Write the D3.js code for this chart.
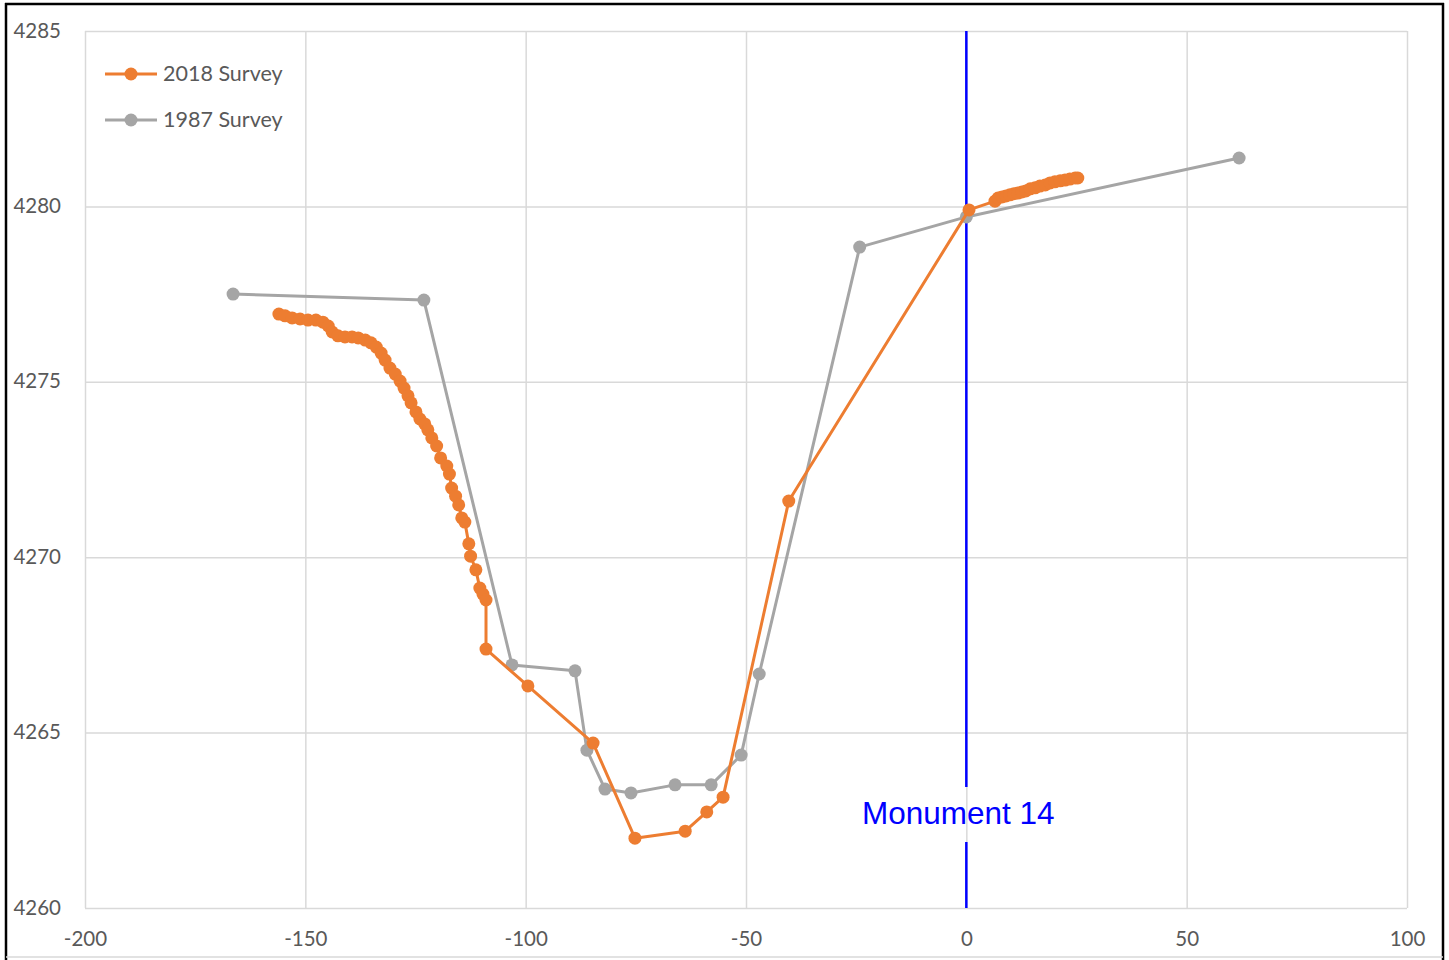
<!DOCTYPE html>
<html><head><meta charset="utf-8">
<script src="https://cdn.jsdelivr.net/npm/d3@7"></script>
<style>
html,body{margin:0;padding:0;background:#fff;}
svg{display:block;}
</style></head>
<body>
<svg id="chart" width="1449" height="960"></svg>
<script>
// ---- data ----
const xTicks = [-200, -150, -100, -50, 0, 50, 100];
const yTicks = [4260, 4265, 4270, 4275, 4280, 4285];
const seriesNames = ["2018 Survey", "1987 Survey"];
const monumentX = 0;
const monumentLabel = "Monument 14";

const survey2018X = [-156.0,-154.6,-153.0,-151.2,-149.4,-147.6,-146.0,-144.8,-143.9,-142.6,-141.0,-139.4,-138.0,-136.4,-135.1,-133.9,-132.8,-131.9,-130.8,-129.6,-128.5,-127.6,-126.7,-126.0,-124.9,-124.0,-122.9,-122.2,-121.3,-120.2,-119.3,-117.9,-117.3,-116.8,-115.9,-115.2,-114.5,-113.8,-112.9,-112.5,-111.3,-110.4,-109.7,-109.0,-109.0,-99.5,-84.7,-75.2,-63.8,-58.9,-55.2,-40.3,0.6,6.5,7.2,8.1,9.0,9.9,10.8,11.7,12.6,13.5,14.5,15.6,16.7,17.9,19.0,20.1,21.3,22.4,23.5,24.7,25.3];
const survey2018Y = [4276.93,4276.88,4276.82,4276.79,4276.76,4276.76,4276.70,4276.59,4276.42,4276.31,4276.28,4276.28,4276.25,4276.19,4276.11,4275.99,4275.82,4275.62,4275.39,4275.22,4275.02,4274.82,4274.60,4274.40,4274.14,4273.94,4273.80,4273.63,4273.40,4273.17,4272.83,4272.60,4272.37,4271.97,4271.74,4271.49,4271.12,4271.00,4270.38,4270.03,4269.64,4269.12,4268.95,4268.78,4267.38,4266.33,4264.70,4261.99,4262.19,4262.74,4263.16,4271.60,4279.90,4280.15,4280.24,4280.27,4280.30,4280.33,4280.36,4280.38,4280.41,4280.44,4280.50,4280.53,4280.58,4280.61,4280.67,4280.70,4280.73,4280.75,4280.78,4280.81,4280.81];

const survey1987X = [-166.4,-123.1,-103.1,-88.8,-86.1,-82.0,-76.1,-66.1,-57.9,-51.1,-47.0,-24.2,0.0,61.9];
const survey1987Y = [4277.50,4277.33,4266.93,4266.76,4264.50,4263.39,4263.28,4263.51,4263.51,4264.36,4266.67,4278.84,4279.70,4281.38];

// ---- layout ----
const svg = d3.select("#chart");
const W = 1449, H = 960;
const pLeft = 85, pRight = 1407, pTop = 31, pBottom = 908;
const x = d3.scaleLinear().domain([-200, 100]).range([pLeft, pRight]);
const y = d3.scaleLinear().domain([4260, 4285]).range([pBottom, pTop]);
const orange = "#ED7D31", gray = "#A5A5A5", txt = "#595959";
const font = "Lato, 'Open Sans', sans-serif";

svg.append("rect").attr("width", W).attr("height", H).attr("fill", "#fff");

// gridlines via axes
const gx = svg.append("g").attr("transform", `translate(0,${pBottom})`)
  .call(d3.axisBottom(x).tickValues(xTicks).tickSize(-(pBottom - pTop)).tickFormat(d => d));
gx.select(".domain").remove();
gx.selectAll(".tick line").attr("stroke", "#d9d9d9").attr("stroke-width", 1.5);
gx.selectAll(".tick text").attr("fill", txt).attr("font-family", font).attr("font-size", 20.5)
  .attr("dy", 0).attr("y", 38).text(d => d < 0 ? "-" + Math.abs(d) : d);

const gy = svg.append("g").attr("transform", `translate(${pLeft},0)`)
  .call(d3.axisLeft(y).tickValues(yTicks).tickSize(-(pRight - pLeft)).tickFormat(d => d));
gy.select(".domain").remove();
gy.selectAll(".tick line").attr("stroke", "#d9d9d9").attr("stroke-width", 1.5);
gy.selectAll(".tick text").attr("fill", txt).attr("font-family", font).attr("font-size", 20.5)
  .attr("x", -24).attr("dy", "0.3em");

// outer frame
svg.append("line").attr("x1", 6).attr("x2", 6).attr("y1", 3).attr("y2", 960).attr("stroke", "#000").attr("stroke-width", 2.5);
svg.append("line").attr("x1", 5).attr("x2", 1444).attr("y1", 4).attr("y2", 4).attr("stroke", "#000").attr("stroke-width", 2.5);
svg.append("line").attr("x1", 1443).attr("x2", 1443).attr("y1", 3).attr("y2", 960).attr("stroke", "#000").attr("stroke-width", 2.5);
svg.append("line").attr("x1", 6).attr("x2", 1443).attr("y1", 957).attr("y2", 957).attr("stroke", "#d9d9d9").attr("stroke-width", 1.5);

// monument line
const mx = x(monumentX);
svg.append("line").attr("x1", mx).attr("x2", mx).attr("y1", pTop).attr("y2", 787)
  .attr("stroke", "#0000FF").attr("stroke-width", 2.5);
svg.append("line").attr("x1", mx).attr("x2", mx).attr("y1", 842).attr("y2", pBottom)
  .attr("stroke", "#0000FF").attr("stroke-width", 2.5);
svg.append("text").attr("x", mx - 8).attr("y", 824).attr("text-anchor", "middle")
  .attr("font-family", "'Liberation Sans', Arial, sans-serif").attr("font-size", 31.5)
  .attr("fill", "#0000FF").text(monumentLabel);

// series
function drawSeries(xs, ys, color) {
  const pts = xs.map((v, i) => [v, ys[i]]);
  const line = d3.line().x(d => x(d[0])).y(d => y(d[1]));
  svg.append("path").datum(pts).attr("d", line).attr("fill", "none")
    .attr("stroke", color).attr("stroke-width", 3).attr("stroke-linejoin", "round");
  svg.append("g").selectAll("circle").data(pts).join("circle")
    .attr("cx", d => x(d[0])).attr("cy", d => y(d[1])).attr("r", 6.5).attr("fill", color);
}
drawSeries(survey1987X, survey1987Y, gray);
drawSeries(survey2018X, survey2018Y, orange);

// legend
const legend = [[seriesNames[0], orange, 74], [seriesNames[1], gray, 120]];
legend.forEach(([name, color, ly]) => {
  svg.append("line").attr("x1", 105).attr("x2", 157).attr("y1", ly).attr("y2", ly)
    .attr("stroke", color).attr("stroke-width", 3);
  svg.append("circle").attr("cx", 131).attr("cy", ly).attr("r", 6.5).attr("fill", color);
  svg.append("text").attr("x", 163).attr("y", ly).attr("dy", "0.33em")
    .attr("font-family", font).attr("font-size", 21.5).attr("fill", txt).text(name);
});
</script>
</body></html>
